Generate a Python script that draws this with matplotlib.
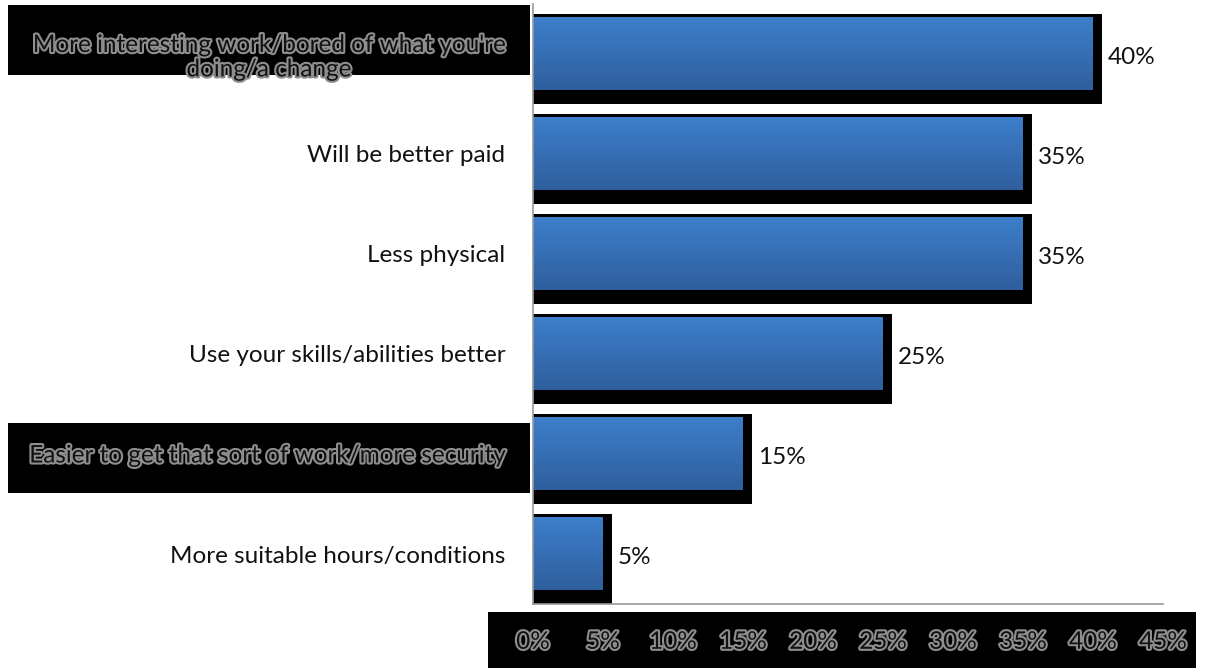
import numpy as np
import matplotlib
matplotlib.use("Agg")
import matplotlib.pyplot as plt
import matplotlib.patheffects as pe
from matplotlib.patches import Rectangle

# ---------- dados ----------
categorias = [
    "More interesting work/bored of what you're\ndoing/a change",
    "Will be better paid",
    "Less physical",
    "Use your skills/abilities better",
    "Easier to get that sort of work/more security",
    "More suitable hours/conditions",
]
valores = [40, 35, 35, 25, 15, 5]
ticks = [0, 5, 10, 15, 20, 25, 30, 35, 40, 45]
tick_labels = ["0%", "5%", "10%", "15%", "20%", "25%", "30%", "35%", "40%", "45%"]
destacados = [0, 4]  # rótulos com caixa preta

plt.rcParams["font.family"] = ["Lato", "DejaVu Sans"]
fs = 17.5

fig = plt.figure(figsize=(12.06, 6.68), dpi=100)
ax = fig.add_axes([533 / 1206, 64 / 668, 630 / 1206, 600 / 668])
ax.set_facecolor("none")

# gradiente azul (topo claro, base escura)
grad = np.linspace(0, 1, 100).reshape(-1, 1)
cmap = matplotlib.colors.LinearSegmentedColormap.from_list("azul", ["#3d7ecb", "#2f5f9d"])

for i, v in enumerate(valores):
    # sombra preta
    ax.barh(i + 0.05, v + 0.65, height=0.9, color="black", zorder=1)
    # barra com gradiente
    ax.imshow(grad, cmap=cmap, aspect="auto", zorder=2,
              extent=(0, v, i + 0.365, i - 0.365))
    ax.annotate(f"{v}%", (v + 0.65, i + 0.04), xytext=(4, 0), textcoords="offset points",
                va="center", ha="left", fontsize=fs, color="#111111")

ax.set_xlim(0, 45)
ax.set_ylim(5.5, -0.5)

ax.set_yticks(range(len(categorias)))
ax.set_yticklabels(categorias, fontsize=fs, multialignment="center")
ax.set_xticks(ticks)
ax.set_xticklabels(tick_labels, fontsize=fs)
ax.tick_params(axis="both", length=0)
ax.tick_params(axis="y", pad=20)
ax.tick_params(axis="x", pad=20)

contorno = [pe.withStroke(linewidth=3, foreground="#8e8e8e")]
for lab in ax.get_xticklabels():
    lab.set_color("#111111")
    lab.set_path_effects(contorno)
for i, lab in enumerate(ax.get_yticklabels()):
    lab.set_color("#111111")
    if i in destacados:
        lab.set_path_effects(contorno)

for s in ["top", "right"]:
    ax.spines[s].set_visible(False)
ax.spines["left"].set_color("#999999")
ax.spines["bottom"].set_color("#999999")
ax.spines["left"].set_linewidth(1.2)
ax.spines["bottom"].set_linewidth(1.2)

# caixas pretas atrás dos rótulos
W, H = 1206, 668
def caixa(x0, y0, x1, y1):
    fig.patches.append(Rectangle((x0 / W, 1 - y1 / H), (x1 - x0) / W, (y1 - y0) / H,
                                 transform=fig.transFigure, facecolor="black",
                                 edgecolor="none", zorder=-1))

caixa(8, 5, 530, 75)
caixa(8, 423, 530, 493)
caixa(488, 612, 1196, 668)

fig.savefig("out.png", dpi=100)
